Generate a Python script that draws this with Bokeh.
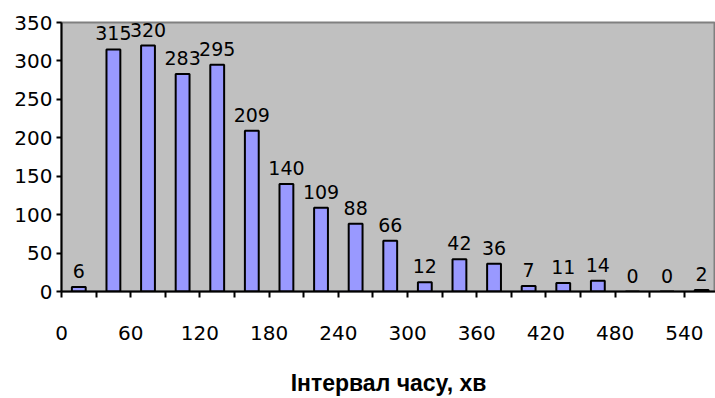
from bokeh.plotting import figure
from bokeh.models import ColumnDataSource, FixedTicker, Range1d
from bokeh.core.properties import value
from bokeh.embed import file_html
from bokeh.resources import INLINE

# Data
bin_starts = [0, 30, 60, 90, 120, 150, 180, 210, 240, 270, 300, 330, 360, 390, 420, 450, 480, 510, 540]
counts = [6, 315, 320, 283, 295, 209, 140, 109, 88, 66, 12, 42, 36, 7, 11, 14, 0, 0, 2]
x_tick_values = [0, 60, 120, 180, 240, 300, 360, 420, 480, 540]
x_tick_labels = ["0", "60", "120", "180", "240", "300", "360", "420", "480", "540"]
y_tick_values = [0, 50, 100, 150, 200, 250, 300, 350]
x_title = "Інтервал часу, хв"

bin_width = 30
centers = [s + bin_width / 2 for s in bin_starts]
source = ColumnDataSource(dict(x=centers, top=counts, label=[str(c) for c in counts]))

p = figure(width=715, height=398, output_backend="svg", toolbar_location=None,
           x_range=Range1d(0, 567), y_range=Range1d(0, 350),
           min_border_left=61, min_border_right=0, min_border_top=22, min_border_bottom=106)

p.background_fill_color = "#C0C0C0"
p.border_fill_color = "white"
p.outline_line_color = "#808080"
p.outline_line_width = 2
p.xgrid.visible = False
p.ygrid.visible = False

p.vbar(x="x", top="top", bottom=0, width=12, source=source,
       fill_color="#9999FF", line_color="black", line_width=2)

p.text(x="x", y="top", text="label", source=source,
       text_align="center", text_baseline="bottom", y_offset=-9,
       text_font=value("DejaVu Sans"), text_font_size="19px", text_color="black")

# X axis
xa = p.xaxis[0]
xa.ticker = FixedTicker(ticks=x_tick_values,
                        minor_ticks=[s for s in bin_starts if s not in x_tick_values] + [570])
xa.major_label_overrides = {v: l for v, l in zip(x_tick_values, x_tick_labels)}
xa.axis_line_color = "black"
xa.axis_line_width = 2
xa.major_tick_line_color = "black"
xa.major_tick_line_width = 2
xa.major_tick_in = 0
xa.major_tick_out = 6
xa.minor_tick_line_color = "black"
xa.minor_tick_line_width = 2
xa.minor_tick_in = 0
xa.minor_tick_out = 6
xa.major_label_standoff = 28
xa.major_label_text_font = "DejaVu Sans"
xa.major_label_text_font_size = "20px"
xa.major_label_text_color = "black"
xa.axis_label = x_title
xa.axis_label_standoff = 27
xa.axis_label_text_font = "Liberation Sans"
xa.axis_label_text_font_style = "bold"
xa.axis_label_text_font_size = "23px"
xa.axis_label_text_color = "black"

# Y axis
ya = p.yaxis[0]
ya.ticker = FixedTicker(ticks=y_tick_values, minor_ticks=[])
ya.axis_line_color = "black"
ya.axis_line_width = 2
ya.major_tick_line_color = "black"
ya.major_tick_line_width = 2
ya.major_tick_in = 0
ya.major_tick_out = 5
ya.major_label_standoff = 4
ya.major_label_text_font = "DejaVu Sans"
ya.major_label_text_font_size = "20px"
ya.major_label_text_color = "black"

open("out.html", "w").write(file_html(p, INLINE))
